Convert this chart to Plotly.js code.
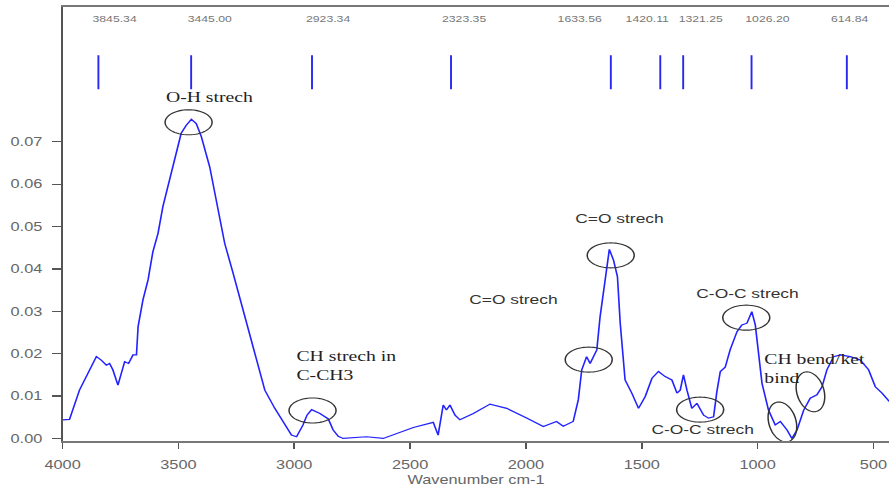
<!DOCTYPE html>
<html>
<head>
<meta charset="utf-8">
<script src="https://cdn.plot.ly/plotly-3.0.1.min.js"></script>
<style>
  html, body { margin: 0; padding: 0; background: #fff; overflow: hidden; }
  #plot { width: 654px; height: 496px; transform: scaleX(1.36); transform-origin: 0 0; }
</style>
</head>
<body>
<div id="plot"></div>
<script>
// ---- data ----
const wavenumber = [4000,3970,3927,3883,3854,3833,3811,3797,3783,3761,3746,3732,3715,3696,3681,3674,3653,3631,3610,3588,3567,3545,3516,3488,3466,3444,3423,3401,3365,3329,3300,3264,3228,3185,3156,3127,3084,3041,3012,2990,2962,2945,2925,2889,2853,2832,2810,2789,2731,2688,2616,2544,2486,2400,2379,2357,2343,2328,2306,2285,2227,2155,2083,1997,1925,1868,1839,1796,1774,1759,1738,1723,1709,1694,1680,1658,1640,1622,1605,1593,1572,1543,1514,1485,1456,1428,1399,1370,1348,1334,1320,1305,1284,1262,1233,1212,1190,1176,1161,1140,1118,1089,1068,1046,1025,1010,996,981,953,924,902,873,852,830,801,773,744,722,701,672,643,600,557,521,492,463,431];
const absorbance = [0.0044,0.0045,0.0114,0.0162,0.0193,0.0185,0.0173,0.0177,0.0162,0.0126,0.0154,0.0181,0.0177,0.0197,0.0197,0.0264,0.0327,0.0374,0.0441,0.0484,0.0547,0.0598,0.0665,0.0720,0.0739,0.0753,0.0743,0.0712,0.0641,0.0547,0.0460,0.0390,0.0319,0.0232,0.0169,0.0114,0.0071,0.0032,0.0008,0.0004,0.0032,0.0055,0.0068,0.0059,0.0046,0.0020,0.0005,0.0000,0.0003,0.0004,0.0000,0.0014,0.0026,0.0038,0.0008,0.0079,0.0067,0.0079,0.0055,0.0044,0.0059,0.0081,0.0071,0.0048,0.0028,0.0040,0.0029,0.0040,0.0091,0.0162,0.0193,0.0177,0.0193,0.0209,0.0287,0.0374,0.0446,0.0421,0.0382,0.0272,0.0138,0.0107,0.0071,0.0099,0.0142,0.0158,0.0146,0.0138,0.0107,0.0114,0.0150,0.0114,0.0071,0.0083,0.0055,0.0048,0.0051,0.0110,0.0158,0.0168,0.0210,0.0252,0.0268,0.0272,0.0299,0.0268,0.0201,0.0130,0.0067,0.0032,0.0040,0.0020,0.0000,0.0020,0.0067,0.0095,0.0103,0.0122,0.0162,0.0193,0.0197,0.0193,0.0185,0.0162,0.0122,0.0107,0.0087];
const peakPositions = [3845.34, 3445.00, 2923.34, 2323.35, 1633.56, 1420.11, 1321.25, 1026.20, 614.84];
const peakLabels = ['3845.34', '3445.00', '2923.34', '2323.35', '1633.56', '1420.11', '1321.25', '1026.20', '614.84'];
const xTickValues = [4000, 3500, 3000, 2500, 2000, 1500, 1000, 500];
const xTickLabels = ['4000', '3500', '3000', '2500', '2000', '1500', '1000', '500'];
const yTickValues = [0, 0.01, 0.02, 0.03, 0.04, 0.05, 0.06, 0.07];
const yTickLabels = ['0.00', '0.01', '0.02', '0.03', '0.04', '0.05', '0.06', '0.07'];
const bandNotes = [
  {text: 'O-H strech', x: 3365, y: 0.0805, serif: true, anchor: 'center'},
  {text: 'CH strech in<br>C-CH3', x: 3002, y: 0.0171, serif: true, anchor: 'left'},
  {text: 'C=O strech', x: 2056, y: 0.0329, serif: false, anchor: 'center'},
  {text: 'C=O strech', x: 1598, y: 0.0520, serif: false, anchor: 'center'},
  {text: 'C-O-C strech', x: 1044, y: 0.0343, serif: false, anchor: 'center'},
  {text: 'C-O-C strech', x: 1239, y: 0.0020, serif: false, anchor: 'center'},
  {text: 'CH bend/ket<br>bind', x: 980, y: 0.0166, serif: true, anchor: 'left'}
];
const circled = [
  {x: 3456, y: 0.0746}, {x: 2921, y: 0.0066}, {x: 1729, y: 0.0186}, {x: 1634, y: 0.0432},
  {x: 1049, y: 0.0285}, {x: 1248, y: 0.0068}, {x: 893, y: 0.0039, tilt: true}, {x: 772, y: 0.0110, tilt: true}
];

// ---- drawing ----
const S = 1.36; // horizontal stretch of the reference picture
function ellipsePath(rx, ry, deg) {
  const th = deg * Math.PI / 180;
  let d = '';
  for (let i = 0; i <= 60; i++) {
    const t = 2 * Math.PI * i / 60;
    const ex = rx * Math.cos(t), ey = ry * Math.sin(t);
    const px = ex * Math.cos(th) - ey * Math.sin(th);
    const py = ex * Math.sin(th) + ey * Math.cos(th);
    d += (i ? 'L' : 'M') + (px / S).toFixed(2) + ',' + py.toFixed(2);
  }
  return d + 'Z';
}

const tickX = [], tickY = [];
peakPositions.forEach(p => { tickX.push(p, p, null); tickY.push(0.0824, 0.0904, null); });

const traces = [
  {x: wavenumber, y: absorbance, type: 'scatter', mode: 'lines',
   line: {color: 'rgb(35,35,255)', width: 1.2}, hoverinfo: 'skip'},
  {x: tickX, y: tickY, type: 'scatter', mode: 'lines',
   line: {color: 'rgb(40,40,240)', width: 1.4}, hoverinfo: 'skip'}
];

const labelShift = [12, 14, 12.5, 10, -23, -9.5, 13, 12, 2];
const annotations = peakLabels.map((t, i) => ({
  text: t, x: peakPositions[i], y: 0.0989, xref: 'x', yref: 'y', showarrow: false,
  xanchor: 'center', yanchor: 'middle', xshift: labelShift[i],
  font: {family: 'Liberation Sans, Arial, sans-serif', size: 9, color: '#777'}
}));
bandNotes.forEach(n => annotations.push({
  text: n.text, x: n.x, y: n.y, xref: 'x', yref: 'y', showarrow: false,
  xanchor: n.anchor, yanchor: 'middle', align: 'left',
  font: n.serif ? {family: 'Liberation Serif, Times New Roman, serif', size: 14.5, color: '#222'}
                : {family: 'Liberation Sans, Arial, sans-serif', size: 12.8, color: '#333'}
}));

const shapes = circled.map(c => ({
  type: 'path', xref: 'x', yref: 'y', xsizemode: 'pixel', ysizemode: 'pixel',
  xanchor: c.x, yanchor: c.y,
  path: c.tilt ? ellipsePath(13.5, 20.5, 18) : ellipsePath(23.5, 12.5, 0),
  line: {color: '#333', width: 1.1}
}));

const layout = {
  width: 654, height: 496,
  margin: {l: 46.3, r: 0, t: 7, b: 55},
  paper_bgcolor: '#fff', plot_bgcolor: '#fff',
  showlegend: false,
  font: {family: 'Liberation Sans, Arial, sans-serif', color: '#666'},
  xaxis: {
    range: [4000, 431], tickvals: xTickValues, ticktext: xTickLabels,
    ticks: 'outside', ticklen: 6, tickwidth: 1.2, tickcolor: '#555',
    showline: true, linecolor: '#777', linewidth: 1.6, mirror: true,
    showgrid: false, zeroline: false,
    tickfont: {size: 12, color: '#666'}, ticklabelstandoff: 6,
    title: {text: 'Wavenumber cm-1', font: {size: 12, color: '#666'}, standoff: 4}
  },
  yaxis: {
    range: [-0.0006, 0.1018], tickvals: yTickValues, ticktext: yTickLabels,
    ticks: 'outside', ticklen: 6, tickwidth: 1.2, tickcolor: '#555',
    showline: true, linecolor: '#555', linewidth: 1.5, mirror: false,
    showgrid: false, zeroline: false,
    tickfont: {size: 12, color: '#666'}, ticklabelstandoff: 5
  },
  annotations: annotations,
  shapes: shapes
};

Plotly.newPlot('plot', traces, layout, {displayModeBar: false, staticPlot: true});
</script>
</body>
</html>
